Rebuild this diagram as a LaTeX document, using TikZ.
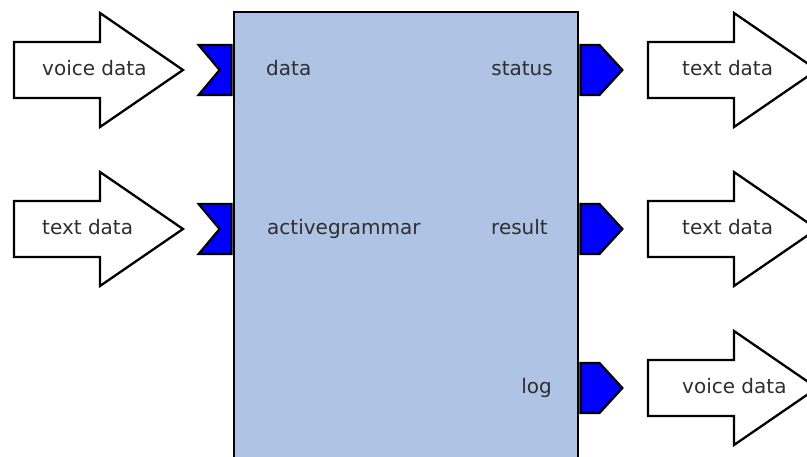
\documentclass[tikz,border=0pt]{standalone}
\usepackage{fontspec}
\setmainfont{DejaVu Sans}
\usepackage{tikz}
\usetikzlibrary{shapes.symbols}

\definecolor{compfill}{HTML}{AFC4E5}
\definecolor{portblue}{HTML}{0000FF}
\definecolor{labelgray}{HTML}{2E2E2E}

% outline of a fat arrow, starting at the middle of its tail
\newcommand{\fatarrow}[1]{\draw[fat arrow] ([yshift=28pt]#1) -- ++(86,0) -- ++(0,29) -- ++(83,-57) -- ++(-83,-57) -- ++(0,29) -- ++(-86,0) -- cycle;}

\begin{document}
\begin{tikzpicture}[x=1pt,y=1pt,
  comp node/.style={draw,line width=2.6pt,fill=compfill,minimum width=344pt,minimum height=460pt,inner sep=0pt},
  in port/.style={signal,signal from=west,signal to=nowhere,signal pointer angle=100,draw,line width=2.2pt,fill=portblue,minimum width=33pt,minimum height=50pt,inner sep=0pt},
  out port/.style={signal,signal to=east,signal pointer angle=95,draw,line width=2.2pt,fill=portblue,minimum width=42pt,minimum height=50pt,inner sep=0pt},
  label node/.style={inner sep=0pt,text=labelgray,text height=14pt,text depth=2pt,font=\fontsize{20pt}{24pt}\selectfont},
  fat arrow/.style={line width=2.3pt,line join=miter}]

  \useasboundingbox (0,0) rectangle (807,457);
  \clip (0,0) rectangle (807,457);

  \coordinate (row1) at (0,387);
  \coordinate (row2) at (0,228);
  \coordinate (row3) at (0,69);

  \node[comp node] (comp) at (406,215) {};

  % ports
  \node[in port,anchor=east]  (pdata)   at (comp.west |- row1) {};
  \node[in port,anchor=east]  (pgram)   at (comp.west |- row2) {};
  \node[out port,anchor=west] (pstatus) at (comp.east |- row1) {};
  \node[out port,anchor=west] (presult) at (comp.east |- row2) {};
  \node[out port,anchor=west] (plog)    at (comp.east |- row3) {};

  \node[label node,anchor=west] (ldata)   at (266,387) {data};
  \node[label node,anchor=west] (lgram)   at (267,228) {activegrammar};
  \node[label node,anchor=east] (lstatus) at (553,387) {status};
  \node[label node,anchor=east] (lresult) at (548,228) {result};
  \node[label node,anchor=east] (llog)    at (552,69)  {log};

  % data arrows
  \coordinate (ain1)  at (14,387);
  \coordinate (ain2)  at (14,228);
  \coordinate (aout1) at (648,387);
  \coordinate (aout2) at (648,228);
  \coordinate (aout3) at (648,69);

  \node[label node,anchor=west] (tin1)  at ([xshift=28pt]ain1)  {voice data};
  \node[label node,anchor=west] (tin2)  at ([xshift=28pt]ain2)  {text data};
  \node[label node,anchor=west] (tout1) at ([xshift=34pt]aout1) {text data};
  \node[label node,anchor=west] (tout2) at ([xshift=34pt]aout2) {text data};
  \node[label node,anchor=west] (tout3) at ([xshift=34pt]aout3) {voice data};

  \fatarrow{ain1}
  \fatarrow{ain2}
  \fatarrow{aout1}
  \fatarrow{aout2}
  \fatarrow{aout3}
\end{tikzpicture}
\end{document}
